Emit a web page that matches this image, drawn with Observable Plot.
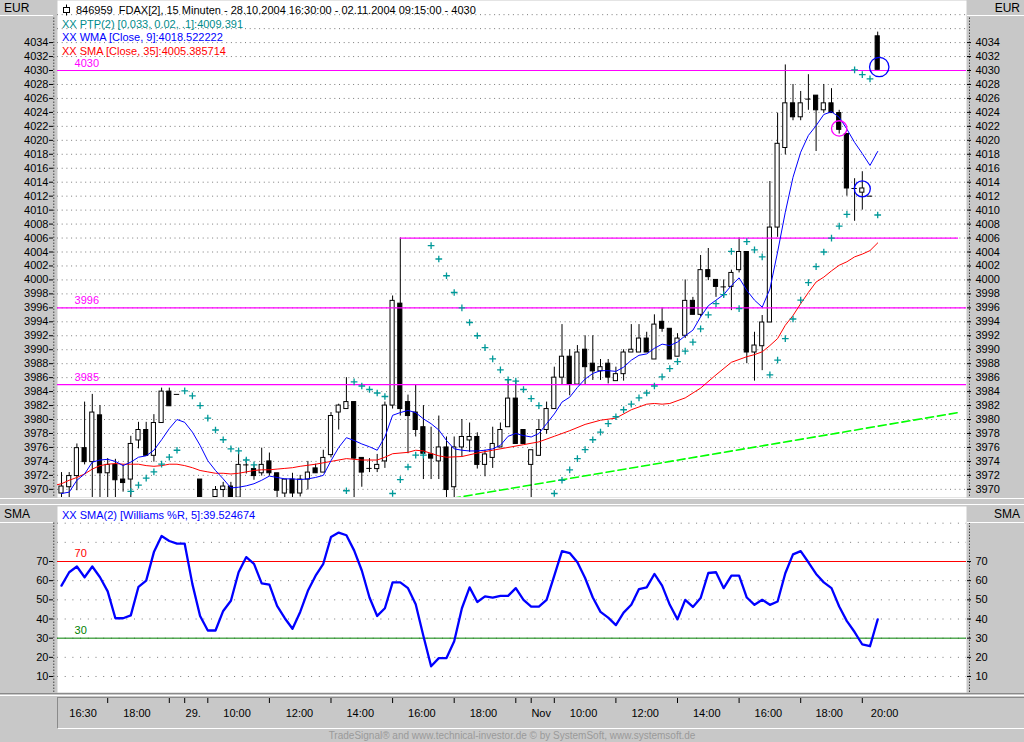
<!DOCTYPE html>
<html><head><meta charset="utf-8">
<script src="https://cdn.jsdelivr.net/npm/d3@7"></script>
<script src="https://cdn.jsdelivr.net/npm/@observablehq/plot@0.6"></script>
<style>
body{margin:0;background:#c8c8c8;}
#root{position:relative;width:1024px;height:742px;overflow:hidden;background:#c8c8c8;font-family:"Liberation Sans",Arial,sans-serif;}
#root svg{position:absolute;left:0;overflow:visible;}
.box{position:absolute;background:#c8c8c8;font-size:12px;line-height:14px;color:#000;border-bottom:1px solid #fff;box-sizing:border-box;}
.hdr{position:absolute;font-size:11px;white-space:nowrap;line-height:12px;}
</style></head>
<body><div id="root"></div>
<script>
// ---------------- data ----------------
const open = [
3969.4,3970.3,3971.9,3975.9,3973.9,3980.6,3972.3,3973.5,3971.4,3971.4,
3977.0,3978.5,3974.8,3979.5,3984.0,3983.6,null,null,3971.4,null,
3968.9,3969.9,3970.4,3968.8,3973.5,3972.9,3972.3,3974.0,3972.3,3969.4,
3971.4,3969.4,3971.4,3973.0,3972.4,3974.9,3981.0,3981.5,3982.5,3974.5,
3973.0,3972.9,3974.0,3982.0,3996.6,3982.5,3981.0,3978.9,3975.0,3974.0,
3976.0,3970.3,3976.0,3977.0,3977.5,3973.5,3974.5,3976.0,3978.9,3983.0,
3978.5,3973.5,3974.8,3978.5,3981.5,3986.0,3989.0,3985.0,3990.0,3988.0,
3986.9,3988.0,3985.5,3986.5,3989.6,3989.6,3991.6,3988.6,3994.0,3993.0,
3989.0,3992.0,3997.0,3995.0,4001.4,4000.0,3999.0,3999.0,4001.4,4004.0,
3989.6,3990.5,3993.9,4007.5,4018.9,4025.3,4023.3,4025.9,4026.4,4024.3,
4025.3,4023.9,4020.9,4013.1,4012.5,4012.0,4034.9];
const high = [
3972.4,3972.4,3976.5,3982.5,3983.6,3982.0,3974.4,3974.3,3973.5,3977.6,
3979.6,3979.6,3980.7,3984.5,3984.5,3983.6,null,null,3971.4,null,
3970.4,3971.0,3971.0,3975.6,3974.4,3973.5,3975.9,3975.2,3972.3,3971.4,
3972.3,3972.0,3974.0,3973.6,3975.6,3981.0,3982.2,3986.0,3982.5,3974.5,
3974.4,3975.0,3982.5,3997.7,4006.0,3983.5,3984.9,3982.0,3978.9,3980.5,
3977.5,3977.5,3980.0,3979.5,3978.1,3975.6,3978.9,3979.5,3985.6,3985.6,
3978.5,3975.6,3980.0,3982.5,3987.5,3993.6,3990.0,3990.6,3992.0,3992.0,
3988.6,3988.6,3987.5,3990.0,3993.6,3993.6,3992.5,3995.0,3996.0,3993.0,
3992.3,4000.0,3997.5,4003.5,4004.5,4000.0,4000.0,4001.4,4006.0,4004.0,
3992.5,3994.9,4014.1,4023.9,4030.8,4028.0,4027.0,4029.4,4026.4,4028.0,
4027.4,4024.3,4020.9,4014.5,4015.5,4012.0,4035.5];
const low = [
3968.5,3968.5,3969.8,3973.5,3968.5,3968.5,3968.5,3968.5,3969.6,3968.5,
3975.8,3974.8,3973.9,3979.5,3981.9,3983.6,null,null,3966.0,null,
3968.0,3968.5,3968.0,3968.0,3972.2,3971.3,3971.9,3971.9,3968.0,3968.0,
3968.0,3968.9,3969.9,3972.3,3972.4,3974.5,3978.5,3981.5,3968.5,3970.3,
3972.4,3972.4,3973.0,3981.5,3980.5,3975.1,3977.5,3971.4,3971.4,3971.4,
3968.5,3968.5,3974.6,3975.3,3972.9,3971.8,3973.0,3976.0,3978.9,3976.5,
3976.5,3968.5,3974.8,3977.9,3981.5,3985.0,3983.4,3985.0,3985.0,3985.6,
3985.6,3985.1,3985.5,3985.5,3989.6,3989.6,3989.6,3988.6,3992.5,3988.6,
3989.0,3991.6,3995.0,3994.7,3999.9,3997.5,3997.5,3995.6,4001.0,3988.0,
3985.5,3987.0,3993.9,4006.1,4017.9,4022.8,4022.8,4024.3,4018.4,4023.9,
4023.9,4020.9,4012.0,4008.4,4010.0,4012.0,4030.1];
const close = [
3970.4,3971.9,3975.9,3973.9,3981.0,3972.3,3973.5,3971.3,3970.9,3976.5,
3978.5,3974.8,3979.5,3984.0,3981.9,3983.6,null,null,3966.0,null,
3969.9,3970.4,3968.8,3973.5,3973.5,3971.9,3973.5,3972.3,3969.8,3971.4,
3969.4,3971.4,3972.4,3972.3,3974.5,3980.5,3982.0,3982.5,3974.4,3972.4,
3973.0,3973.5,3982.0,3997.0,3981.5,3980.5,3978.5,3975.1,3974.4,3976.0,
3969.9,3976.0,3977.5,3977.5,3973.5,3975.0,3976.5,3978.5,3983.0,3976.5,
3976.5,3975.6,3978.5,3981.5,3986.0,3989.0,3985.0,3989.6,3987.5,3986.9,
3987.5,3986.0,3986.5,3989.6,3990.0,3991.6,3989.6,3993.6,3993.0,3988.6,
3991.6,3997.0,3995.0,4001.4,4000.4,3999.0,3999.0,4001.0,4004.0,3989.6,
3990.6,3993.9,4007.5,4019.5,4025.3,4023.3,4025.3,4025.9,4024.3,4025.3,
4023.9,4021.5,4013.1,4013.1,4013.1,4012.0,4030.1];

const wma = [
3969.4,3969.6,3971.3,3972.2,3973.9,3974.2,3974.3,3974.0,3973.4,3973.9,
3974.6,3974.8,3975.6,3977.1,3978.7,3980.0,3979.6,3978.2,3976.3,3974.1,
3972.7,3971.5,3970.2,3970.3,3970.5,3970.8,3971.3,3971.9,3971.7,3971.5,
3971.5,3971.4,3971.5,3971.7,3972.0,3974.1,3976.0,3977.4,3977.0,3976.5,
3976.1,3975.6,3977.5,3980.6,3981.0,3981.3,3981.0,3980.1,3979.4,3978.5,
3977.0,3975.8,3975.6,3975.5,3975.5,3975.6,3975.8,3976.3,3977.6,3978.0,
3977.7,3977.5,3978.0,3979.4,3980.8,3982.5,3983.2,3984.6,3985.8,3986.6,
3987.0,3987.0,3986.9,3987.5,3988.5,3989.2,3989.4,3990.2,3990.8,3990.6,
3991.1,3992.0,3992.8,3994.7,3996.3,3997.1,3997.9,3999.2,4000.3,3998.5,
3997.1,3996.1,3998.7,4004.0,4009.7,4014.7,4018.3,4020.7,4022.1,4023.7,
4024.1,4023.3,4021.6,4019.7,4018.1,4016.4,4018.4];

const smaIdx = [-0.8,0,1,2,3,4,5,6,7,8,9,10,11,12,13,14,15,16,17,18,19,20,21,22,23,24,25,26,27,28,29,30,31,
33,35,37,39,41,42,43,45,46,47,49,50,52,54,56,58,60,62,64,66,68,70,72,74,76,77,78,79,81,83,85,87,
89,90,91,92,93,94,95,96,97,98,99,100,101,102,103,104,105,106];
const smaVal = [3970.6,3970.8,3971.3,3971.7,3972.2,3972.9,3973.4,3973.6,3973.7,3973.6,3973.6,3973.6,3973.4,3973.3,3973.4,3973.6,3973.6,3973.4,3973.1,3972.7,3972.5,3972.3,3972.3,3972.2,3972.3,3972.5,3972.7,3972.8,3972.8,3972.9,3973.0,3973.1,3973.3,
3973.6,3974.0,3974.4,3974.2,3974.2,3974.6,3975.1,3975.3,3975.6,3975.5,3974.8,3974.6,3974.7,3975.2,3975.6,3976.0,3976.4,3976.8,3977.6,3978.4,3979.3,3979.9,3980.2,3981.4,3982.2,3982.3,3982.2,3982.3,3983.1,3984.5,3986.4,3988.2,
3989.0,3989.3,3989.7,3990.6,3991.6,3993.5,3994.9,3996.6,3998.2,3999.7,4000.4,4001.3,4002.1,4002.6,4003.3,4003.7,4004.2,4005.3];

const ptpIdx = [9,10,11,12,13,14,15,16,17,18,19,20,21,22,23,24,25,
37,38,39,40,41,42,43,44,45,46,47,48,49,50,51,52,53,54,55,56,57,58,59,60,61,62,
64,65,66,67,68,69,70,71,72,73,74,75,76,77,78,79,80,81,82,83,84,85,86,87,88,89,90,91,
92,93,94,95,96,97,98,99,100,101,102,103,104,105,106];
const ptpVal = [3969.7,3970.6,3971.6,3972.5,3973.6,3974.6,3975.6,3984.1,3983.4,3982.0,3980.2,3978.5,3977.1,3975.8,3975.5,3974.2,3973.5,
3969.8,3985.4,3984.8,3984.3,3983.8,3983.3,3969.4,3971.4,3973.2,3974.9,3974.9,4004.9,4003.0,4000.6,3998.2,3996.0,3993.9,3992.0,3990.3,3988.7,3987.1,3985.7,3985.5,3984.3,3983.0,3982.0,
3969.4,3971.3,3972.8,3974.4,3975.7,3977.1,3978.2,3979.4,3980.4,3981.4,3982.2,3983.1,3983.8,3984.8,3986.1,3987.3,3988.3,3989.8,3991.1,3993.0,3995.0,3996.6,3997.9,4004.1,3995.9,4005.5,4004.3,4003.3,
3986.4,3988.5,3991.6,3994.4,3997.1,3999.6,4001.9,4004.0,4006.0,4007.7,4009.4,4030.1,4029.4,4028.8,4009.3];

const levels = [4030, 3996, 3985];
const levelLabels = ["4030", "3996", "3985"];
const resistLevel = [4006];
const trendIdx = [40, 116.5];
const trendVal = [3966.7, 3981.0];
const signalIdx = [106.2, 101.0, 104.0];
const signalVal = [4030.5, 4021.7, 4013.05];
const signalColor = ["#0000ff", "#ff00ff", "#0000ff"];
const signalRadius = [9.7, 7.7, 8];

const osc = [
57.4,64.4,67.4,61.8,67.4,61.8,54.4,40.4,40.4,41.9,
56.8,60.0,74.9,83.3,80.7,79.3,79.3,58.2,41.6,34.0,
34.0,44.2,49.5,64.4,72.3,68.8,58.6,57.9,46.8,40.4,
34.9,43.7,54.7,62.6,68.8,82.8,85.1,83.7,75.8,65.3,
51.2,41.6,45.6,59.1,59.1,56.1,47.7,31.1,15.3,19.6,
19.6,28.4,45.6,56.5,48.9,51.8,51.2,52.1,52.1,56.1,
50.0,46.5,46.5,50.0,62.6,75.4,74.4,69.6,61.4,51.2,
43.7,40.7,36.8,43.3,47.4,55.6,56.5,63.5,57.4,47.4,
39.8,50.0,46.3,50.9,64.0,64.4,56.1,62.6,62.6,51.2,
47.4,50.0,47.4,49.1,63.9,73.7,75.4,69.6,63.5,59.1,
56.1,46.5,38.9,33.2,26.7,25.8,39.8];
const oscLevels = [70, 30];
const oscLevelColors = ["#ff0000", "#008000"];

const priceTicks = [3970,3972,3974,3976,3978,3980,3982,3984,3986,3988,3990,3992,3994,3996,3998,4000,
4002,4004,4006,4008,4010,4012,4014,4016,4018,4020,4022,4024,4026,4028,4030,4032,4034];
const priceGrid = priceTicks.concat([4036, 4038]);
const oscTicks = [10,20,30,40,50,60,70];
const oscGrid = [10,20,30,40,50,60,70,80,90];

const timeTickIdx = [6,14,16,19,27,35,43,51,59,61,64,72,80,88,96,104];
const timeLabels = ["16:30","18:00","29.","10:00","12:00","14:00","16:00","18:00","Nov","10:00","12:00","14:00","16:00","18:00","20:00"];
const timeLabelPos = [2.8,9.8,17.1,22.8,30.9,38.8,46.8,54.8,62.3,67.8,75.8,83.8,91.8,99.7,106.9];

// ---------------- build ----------------
const FONT = '"Liberation Sans", Arial, sans-serif';
const xDomain = [-0.519, 117.532];
const axisLeftX = -1.0, axisRightX = 117.92;
const root = document.getElementById("root");

const candles = open.map((o, i) => ({i, o, h: high[i], l: low[i], c: close[i]})).filter(d => d.o != null);
const upBodies = candles.filter(d => d.c - d.o >= 0.3);
const downBodies = candles.filter(d => d.o - d.c >= 0.3);
const dojis = candles.filter(d => Math.abs(d.o - d.c) < 0.3);
const halfW = 0.27;

const signalMarks = signalIdx.map((sx, k) =>
  Plot.dot([sx], {x: d => d, y: () => signalVal[k], r: signalRadius[k], stroke: signalColor[k], fill: "none", strokeWidth: 1.3})
);

const price = Plot.plot({
  width: 1024, height: 497,
  marginLeft: 57, marginRight: 58, marginTop: 0, marginBottom: 0,
  x: {domain: xDomain, axis: null},
  y: {domain: [3968.83, 4040.03], label: null},
  style: {background: "transparent", fontFamily: FONT, fontSize: "11px", color: "black"},
  marks: [
    Plot.frame({fill: "white", stroke: null}),
    Plot.ruleY(priceGrid, {stroke: "#7a7a7a", strokeDasharray: "1,3.7"}),
    Plot.line(trendIdx, {x: d => d, y: (d, i) => trendVal[i], stroke: "#00ff00", strokeWidth: 1.6, strokeDasharray: "8,4", clip: true}),
    Plot.ruleX(candles, {x: "i", y1: "l", y2: "h", stroke: "black", clip: true}),
    Plot.rect(upBodies, {x1: d => d.i - halfW, x2: d => d.i + halfW, y1: "o", y2: "c", fill: "white", stroke: "black", clip: true}),
    Plot.rect(downBodies, {x1: d => d.i - halfW, x2: d => d.i + halfW, y1: "o", y2: "c", fill: "black", stroke: "black", clip: true}),
    Plot.ruleY(dojis, {y: "o", x1: d => d.i - 0.35, x2: d => d.i + 0.35, stroke: "black", clip: true}),
    Plot.ruleY(levels, {stroke: "#ff00ff", strokeWidth: 1.2}),
    Plot.ruleY(resistLevel, {x1: 44, x2: 116.5, stroke: "#ff00ff", strokeWidth: 1.2}),
    Plot.text(levels, {x: 1.7, y: d => d, text: (d, i) => levelLabels[i], fill: "#ff00ff", textAnchor: "start", dy: -7, fontSize: 11}),
    Plot.line(smaIdx, {x: d => d, y: (d, i) => smaVal[i], stroke: "#ff0000", strokeWidth: 1, clip: true}),
    Plot.line(wma, {x: (d, i) => i, y: d => d, stroke: "#0000ff", strokeWidth: 1, clip: true}),
    Plot.dot(ptpIdx, {x: d => d, y: (d, i) => ptpVal[i], symbol: "plus", r: 2.3, stroke: "#009999", strokeWidth: 1.3, clip: true}),
    ...signalMarks,
    Plot.ruleX([axisLeftX, axisRightX], {y1: 4037.5, y2: 3968.83, stroke: "black", strokeDasharray: "1,2"}),
    Plot.axisY(priceTicks, {anchor: "left", tickSize: 4, tickPadding: 1, dx: -4, tickFormat: d => String(d), fontSize: 11, label: null}),
    Plot.axisY(priceTicks, {anchor: "right", tickSize: 4, tickPadding: 5, tickFormat: d => String(d), fontSize: 11, label: null})
  ]
});
price.style.top = "0px";
root.appendChild(price);

const oscPlot = Plot.plot({
  width: 1024, height: 186,
  marginLeft: 57, marginRight: 58, marginTop: 0, marginBottom: 0,
  x: {domain: xDomain, axis: null},
  y: {domain: [1.65, 98.7], label: null},
  style: {background: "transparent", fontFamily: FONT, fontSize: "11px", color: "black"},
  marks: [
    Plot.frame({fill: "white", stroke: null}),
    Plot.ruleY(oscGrid, {stroke: "#7a7a7a", strokeDasharray: "1,6.7"}),
    Plot.ruleY(oscLevels, {stroke: (d, i) => oscLevelColors[i]}),
    Plot.text(oscLevels, {x: 1.7, y: d => d, text: d => String(d), fill: (d, i) => oscLevelColors[i], textAnchor: "start", dy: -8, fontSize: 11}),
    Plot.line(osc, {x: (d, i) => i, y: d => d, stroke: "#0000ff", strokeWidth: 2.3, strokeLinejoin: "round"}),
    Plot.ruleX([axisLeftX, axisRightX], {y1: 90, y2: 1.65, stroke: "black", strokeDasharray: "1,2"}),
    Plot.axisY(oscTicks, {anchor: "left", tickSize: 4, tickPadding: 1, dx: -4, fontSize: 11, label: null}),
    Plot.axisY(oscTicks, {anchor: "right", tickSize: 4, tickPadding: 5, fontSize: 11, label: null})
  ]
});
oscPlot.style.top = "506px";
root.appendChild(oscPlot);

// time axis frame
const tf = document.createElement("div");
tf.style.cssText = "position:absolute;left:57px;top:697px;width:967px;height:32px;box-sizing:border-box;border-top:1px solid #8a8a8a;border-left:1px solid #8a8a8a;border-bottom:1px solid #ffffff;";
root.appendChild(tf);

const timePlot = Plot.plot({
  width: 1024, height: 32,
  marginLeft: 57, marginRight: 58, marginTop: 0, marginBottom: 0,
  x: {domain: xDomain, axis: null},
  y: {domain: [0, 32], range: [0, 32], axis: null},
  style: {background: "transparent", fontFamily: FONT, fontSize: "11px", color: "black"},
  marks: [
    Plot.ruleX(timeTickIdx, {x: d => d, y1: 1, y2: 6, stroke: "black"}),
    Plot.text(timeLabels, {x: (d, i) => timeLabelPos[i], y: 16, text: d => d, fill: "black", fontSize: 11})
  ]
});
timePlot.style.top = "697px";
root.appendChild(timePlot);

// separators
function hline(top, color, left = 0, width = 1024) {
  const d = document.createElement("div");
  d.style.cssText = `position:absolute;left:${left}px;top:${top}px;width:${width}px;height:1px;background:${color};`;
  root.appendChild(d);
}
hline(498, "#ffffff"); hline(504, "#ffffff"); hline(693, "#8a8a8a"); hline(695, "#ffffff");

// boxes
function box(text, left, top, width, height, align) {
  const d = document.createElement("div");
  d.className = "box";
  d.style.cssText += `left:${left}px;top:${top}px;width:${width}px;height:${height}px;text-align:${align};padding:1px 4px 0 4px;`;
  d.textContent = text;
  root.appendChild(d);
}
box("EUR", 0, 0, 53, 16, "left");
box("EUR", 967, 0, 57, 16, "right");
box("SMA", 0, 506, 53, 17, "left");
box("SMA", 967, 506, 57, 17, "right");

// headers
function hdr(html, left, top, color) {
  const d = document.createElement("div");
  d.className = "hdr";
  d.style.left = left + "px"; d.style.top = top + "px"; d.style.color = color;
  d.innerHTML = html;
  root.appendChild(d);
}
const icon = '<svg width="9" height="12" style="position:relative;vertical-align:top;margin-right:5px;overflow:visible" viewBox="0 0 9 12"><line x1="4.5" y1="0.5" x2="4.5" y2="11.5" stroke="black"/><rect x="1.5" y="3.5" width="6" height="5" fill="white" stroke="black"/></svg>';
hdr(icon + "846959&nbsp; FDAX[2], 15 Minuten - 28.10.2004 16:30:00 - 02.11.2004 09:15:00 - 4030", 62, 4, "#000000");
hdr("XX PTP(2) [0.033, 0.02, .1]:4009.391", 62, 18, "#008b8b");
hdr("XX WMA [Close, 9]:4018.522222", 62, 31, "#0000ff");
hdr("XX SMA [Close, 35]:4005.385714", 62, 45, "#ff0000");
hdr("XX SMA(2) [Williams %R, 5]:39.524674", 62, 509, "#0000ff");

// footer
const ft = document.createElement("div");
ft.style.cssText = "position:absolute;left:0;width:1024px;top:730px;text-align:center;font-size:10px;line-height:12px;color:#9a9a9a;white-space:nowrap;";
ft.textContent = "TradeSignal® and www.technical-investor.de © by SystemSoft, www.systemsoft.de";
root.appendChild(ft);
</script></body></html>
